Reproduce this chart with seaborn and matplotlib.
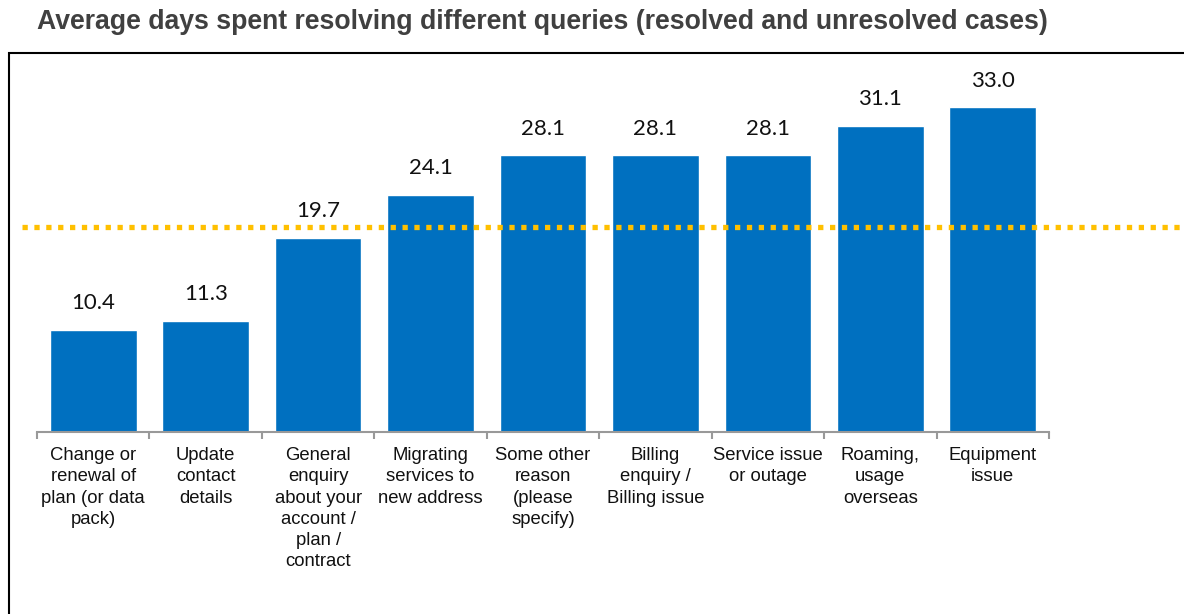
import numpy as np
import pandas as pd
import seaborn as sns
from matplotlib import pyplot as plt
from matplotlib.patches import Rectangle

categories = [
    "Change or\nrenewal of\nplan (or data\npack)",
    "Update\ncontact\ndetails",
    "General\nenquiry\nabout your\naccount /\nplan /\ncontract",
    "Migrating\nservices to\nnew address",
    "Some other\nreason\n(please\nspecify)",
    "Billing\nenquiry /\nBilling issue",
    "Service issue\nor outage",
    "Roaming,\nusage\noverseas",
    "Equipment\nissue",
]
avg_days = [10.4, 11.3, 19.7, 24.1, 28.1, 28.1, 28.1, 31.1, 33.0]
overall_avg = 20.8

sns.set_theme(style="white")
plt.rcParams['font.family'] = ['Liberation Sans', 'DejaVu Sans']

df = pd.DataFrame({'query': categories, 'days': avg_days})

fig = plt.figure(figsize=(11.84, 6.14), dpi=100)
ax = fig.add_axes([37 / 1184, 182 / 614, 1012 / 1184, 372 / 614])

sns.barplot(data=df, x='query', y='days', color='#0070C0', saturation=1,
            width=0.77, ax=ax)

ax.bar_label(ax.containers[0], fmt='%.1f', padding=12, fontsize=16,
             family=['Lato', 'DejaVu Sans'], color='#111111')

ax.set_xlim(-0.5, len(categories) - 0.5)
ax.set_ylim(0, 37.8)
ax.set_xlabel('')
ax.set_ylabel('')
ax.set_yticks([])

for side in ['top', 'right', 'left']:
    ax.spines[side].set_visible(False)
ax.spines['bottom'].set_color('#999999')
ax.spines['bottom'].set_linewidth(1.5)

ax.set_xticks(np.arange(len(categories)))
ax.set_xticklabels(categories, fontsize=13.3, color='#111111', linespacing=1.32)
ax.set_xticks(np.arange(len(categories) + 1) - 0.5, minor=True)
ax.tick_params(axis='x', which='major', length=0, pad=11)
ax.tick_params(axis='x', which='minor', length=5, width=1.5, color='#999999',
               direction='out', bottom=True)

# dotted average line running past the plot area
ax.axhline(overall_avg, xmin=-0.015, xmax=1.14, color='#FFC000', lw=3.8,
           linestyle=(0, (1.0, 1.25)), clip_on=False, zorder=5)

# frame around the chart area
fig.patches.append(Rectangle((9 / 1184, -0.1), 1.2, 1.0137, transform=fig.transFigure,
                             fill=False, edgecolor='black', lw=1.5))

fig.text(37 / 1184, 1 - 22 / 614,
         'Average days spent resolving different queries (resolved and unresolved cases)',
         fontsize=19.2, fontweight='bold', color='#404040', va='center', ha='left')

fig.savefig('out.png', dpi=100)
